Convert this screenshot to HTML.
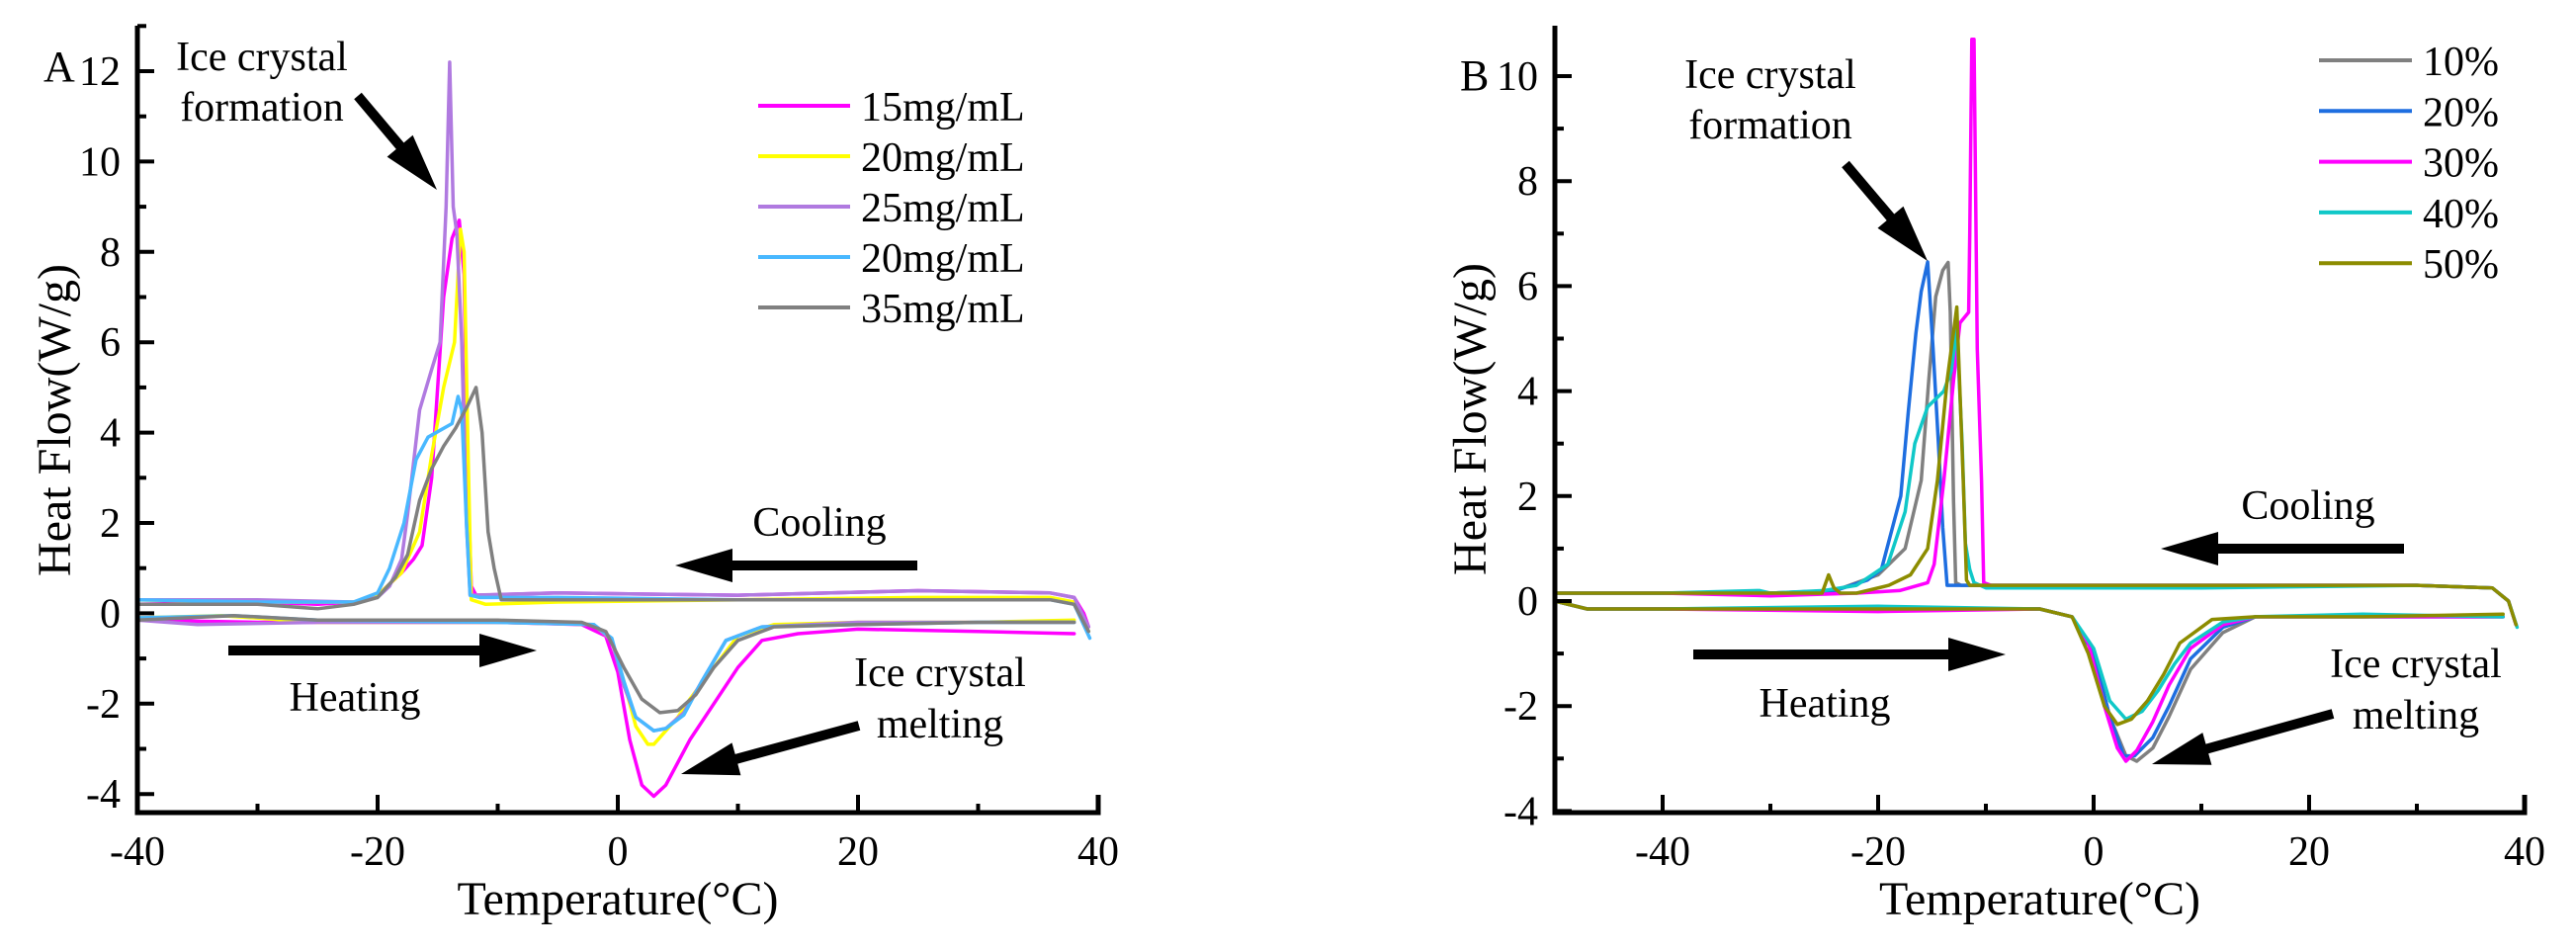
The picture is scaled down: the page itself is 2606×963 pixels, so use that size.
<!DOCTYPE html>
<html><head><meta charset="utf-8"><style>
html,body{margin:0;padding:0;background:#fff;}
svg{display:block;}
svg text{font-family:"Liberation Serif","Times New Roman",serif;}
</style></head>
<body>
<svg id="fig" width="2606" height="963" viewBox="0 0 2606 963" xmlns="http://www.w3.org/2000/svg" font-family="Liberation Serif, serif">
<g id="panelA"></g>
<g id="panelB"></g>
</svg>
<script>
// ---------- Panel A data ----------
const aXTicks = [-40, -20, 0, 20, 40];
const aYTicks = [-4, -2, 0, 2, 4, 6, 8, 10, 12];
const aLegendLabels = ["15mg/mL", "20mg/mL", "25mg/mL", "20mg/mL", "35mg/mL"];
const aColors = ["#ff00ff", "#ffff00", "#b07ae0", "#48b8ff", "#808080"];

const a15CoolT = [-40,-30,-25,-22,-20,-18,-17,-16.3,-15.5,-14.5,-13.8,-13.2,-12.8,-12.5,-12.2,-11.8,-5,10,25,36,38,38.8,39.2];
const a15CoolV = [0.2,0.25,0.2,0.25,0.4,0.9,1.2,1.5,3,7,8.3,8.7,7.5,3,0.6,0.4,0.45,0.4,0.5,0.45,0.35,0.0,-0.3];
const a15HeatT = [-40,-30,-20,-10,-3,-1,0,1,2,3,4,5,6,8,10,12,15,20,30,38];
const a15HeatV = [-0.15,-0.2,-0.2,-0.2,-0.25,-0.5,-1.3,-2.8,-3.8,-4.05,-3.8,-3.3,-2.8,-2.0,-1.2,-0.6,-0.45,-0.35,-0.4,-0.45];

const a20CoolT = [-40,-30,-22,-20,-18,-16.5,-15.5,-14.5,-13.6,-13.1,-12.8,-12.5,-12.2,-11,-5,10,25,36,38,39.2];
const a20CoolV = [0.3,0.25,0.25,0.4,0.9,1.8,3.5,5,6,8.5,8,4,0.3,0.2,0.25,0.3,0.35,0.35,0.25,-0.4];
const a20HeatT = [-40,-33,-25,-10,-2,-0.5,0.5,1.5,2.5,3,4,5,6,8,10,13,20,30,38];
const a20HeatV = [-0.1,-0.05,-0.2,-0.2,-0.25,-0.6,-1.5,-2.5,-2.9,-2.9,-2.6,-2.3,-1.9,-1.2,-0.5,-0.25,-0.2,-0.2,-0.15];

const a25CoolT = [-40,-30,-22,-20,-19,-18,-17.5,-16.5,-15.5,-14.8,-14.3,-14,-13.7,-13.4,-13,-12.6,-12.3,-5,10,25,36,38,39.2];
const a25CoolV = [0.3,0.3,0.25,0.35,0.6,1.2,2.2,4.5,5.4,6,9,12.2,9,8.4,6,2,0.4,0.45,0.4,0.5,0.45,0.35,-0.3];
const a25HeatT = [-40,-35,-25,-10,-2,-0.5,0.5,1.5,3,4,5.5,7,9,12,20,30,38];
const a25HeatV = [-0.15,-0.25,-0.2,-0.2,-0.25,-0.6,-1.6,-2.3,-2.6,-2.55,-2.2,-1.5,-0.6,-0.3,-0.2,-0.2,-0.2];

const a20bCoolT = [-40,-30,-22,-20,-19,-17.8,-16.8,-15.8,-14.8,-13.8,-13.3,-13,-12.6,-12.3,-11.5,-5,10,25,36,38,39.3];
const a20bCoolV = [0.3,0.25,0.25,0.45,1,2,3.4,3.9,4.05,4.2,4.8,4.5,2,0.4,0.35,0.35,0.3,0.3,0.3,0.2,-0.55];
const a20bHeatT = [-40,-32,-25,-10,-2,-0.5,0.5,1.5,3,4,5.5,7,9,12,20,30,38];
const a20bHeatV = [-0.1,-0.05,-0.15,-0.2,-0.25,-0.55,-1.5,-2.3,-2.6,-2.55,-2.25,-1.5,-0.6,-0.3,-0.25,-0.2,-0.2];

const a35CoolT = [-40,-30,-25,-22,-20,-18.5,-17.5,-16.5,-15.5,-14.5,-13.5,-12.5,-11.8,-11.3,-10.8,-10.3,-9.7,-5,10,25,36,38,39.2];
const a35CoolV = [0.2,0.2,0.1,0.2,0.35,0.8,1.3,2.5,3.2,3.7,4.1,4.6,5,4,1.8,1,0.3,0.3,0.3,0.3,0.3,0.2,-0.4];
const a35HeatT = [-40,-32,-25,-10,-3,-1,0.5,2,3.5,5,6.5,8,10,13,20,30,38];
const a35HeatV = [-0.15,-0.05,-0.15,-0.15,-0.2,-0.4,-1.2,-1.9,-2.2,-2.15,-1.8,-1.2,-0.6,-0.3,-0.25,-0.2,-0.2];

// ---------- Panel B data ----------
const bXTicks = [-40, -20, 0, 20, 40];
const bYTicks = [-4, -2, 0, 2, 4, 6, 8, 10];
const bLegendLabels = ["10%", "20%", "30%", "40%", "50%"];
const bColors = ["#808080", "#1e6ee0", "#ff00ff", "#10c8c8", "#8c8c00"];

const b10CoolT = [-50,-40,-30,-24,-20,-17.5,-16,-15.3,-14.65,-14,-13.5,-13.3,-13,-12.8,-12.3,-5,10,30,37,38.5,39.2];
const b10CoolV = [0.15,0.15,0.15,0.2,0.5,1.0,2.3,4.2,5.8,6.3,6.45,5.5,1.9,0.35,0.3,0.3,0.3,0.3,0.25,0,-0.45];
const b10HeatT = [-50,-47,-40,-20,-5,-2,0,1.5,3,4,5.5,7,9,12,15,25,38];
const b10HeatV = [0,-0.15,-0.15,-0.15,-0.15,-0.3,-1,-2.2,-2.95,-3.05,-2.8,-2.2,-1.3,-0.6,-0.3,-0.3,-0.3];

const b20CoolT = [-50,-40,-30,-24,-21,-19.7,-17.9,-17.2,-16.5,-16,-15.4,-14.9,-14.65,-14.4,-14,-13.6,-10,10,30,37,38.5,39.2];
const b20CoolV = [0.15,0.15,0.15,0.2,0.4,0.6,2.0,3.6,5.1,5.9,6.46,4.8,3.9,3.0,1.4,0.3,0.3,0.3,0.3,0.25,0,-0.45];
const b20HeatT = [-50,-47,-40,-20,-5,-2,0,1.5,2.8,3.8,5.5,7,9,12,15,25,38];
const b20HeatV = [0,-0.15,-0.15,-0.15,-0.15,-0.3,-1,-2.2,-2.95,-2.95,-2.6,-2.0,-1.1,-0.5,-0.3,-0.3,-0.3];

const b30CoolT = [-50,-40,-30,-22,-18,-15.4,-14.8,-13.9,-13,-12.4,-11.6,-11.5,-11.3,-11.1,-10.8,-10.4,-10.2,-9.5,10,30,37,38.5,39.2];
const b30CoolV = [0.15,0.15,0.1,0.15,0.2,0.35,0.7,2.3,4.2,5.3,5.5,7.0,10.7,10.7,4.8,2.3,0.35,0.3,0.3,0.3,0.25,0,-0.45];
const b30HeatT = [-50,-47,-40,-20,-5,-2,-0.5,1,2.2,3,4,5.5,7,9,12,15,25,38];
const b30HeatV = [0,-0.15,-0.15,-0.2,-0.15,-0.3,-0.8,-2.0,-2.8,-3.05,-2.85,-2.3,-1.6,-0.9,-0.45,-0.3,-0.3,-0.3];

const b40CoolT = [-50,-40,-31,-30,-25,-22,-19.1,-17.5,-16.6,-15.4,-13.9,-13.2,-12.7,-12.2,-11.9,-11.5,-11.1,-10,10,30,37,38.5,39.3];
const b40CoolV = [0.15,0.15,0.2,0.15,0.2,0.3,0.7,1.7,3.0,3.7,4.0,4.4,5.2,3.0,1.1,0.6,0.35,0.25,0.25,0.3,0.25,0,-0.5];
const b40HeatT = [-50,-47,-40,-20,-5,-2,0,1.5,3,4.5,6,7.5,9,12,15,25,38];
const b40HeatV = [0,-0.15,-0.15,-0.1,-0.15,-0.3,-0.9,-1.9,-2.25,-2.1,-1.7,-1.2,-0.8,-0.4,-0.3,-0.25,-0.3];

const b50CoolT = [-50,-40,-30,-25.2,-24.6,-24.1,-23.5,-22,-19,-17,-15.4,-14.5,-13.6,-12.7,-12.1,-11.8,-11.5,-5,10,30,37,38.5,39.2];
const b50CoolV = [0.15,0.15,0.15,0.15,0.5,0.25,0.15,0.15,0.3,0.5,1.0,2.3,4.2,5.6,2.3,0.4,0.3,0.3,0.3,0.3,0.25,0,-0.45];
const b50HeatT = [-50,-47,-40,-20,-5,-2,-0.5,1,2.2,3.5,5,6.5,8,11,15,25,38];
const b50HeatV = [0,-0.15,-0.15,-0.15,-0.15,-0.3,-1,-2.0,-2.35,-2.25,-1.9,-1.4,-0.8,-0.35,-0.3,-0.3,-0.25];

const NS = "http://www.w3.org/2000/svg";
const FONT = '"Liberation Serif", "Times New Roman", serif';
function mk(parent, tag, attrs, text) {
  const e = document.createElementNS(NS, tag);
  for (const k in attrs) e.setAttribute(k, attrs[k]);
  if (tag === 'text') e.setAttribute('font-family', FONT);
  if (text !== undefined) e.textContent = text;
  parent.appendChild(e);
  return e;
}

function drawPanel(g, cfg) {
  const sx = t => cfg.x0 + (t - cfg.xmin) / (cfg.xmax - cfg.xmin) * (cfg.x1 - cfg.x0);
  const sy = v => cfg.yZero - v * cfg.yPer;
  cfg.series.forEach((s, i) => {
    [[s.ct, s.cv, 'cooling'], [s.ht, s.hv, 'heating']].forEach(([T, V, kind]) => {
      let d = '';
      T.forEach((t, j) => { d += (j ? 'L' : 'M') + sx(t).toFixed(1) + ',' + sy(V[j]).toFixed(1); });
      const p = mk(g, 'path', {d: d, fill: 'none', stroke: cfg.colors[i], 'stroke-width': 3.5, 'stroke-linejoin': 'round', 'stroke-linecap': 'round'});
      
      
    });
  });
  const ax = mk(g, 'path', {d: `M${cfg.x0},${cfg.yTop}V${cfg.yBot}H${cfg.x1}V${cfg.yBot - 18}`, fill: 'none', stroke: '#000', 'stroke-width': 5});
  
  
  for (let t = cfg.xmin; t <= cfg.xmax; t += 10) {
    const major = cfg.xTicks.includes(t);
    const tk = mk(g, 'line', {x1: sx(t), x2: sx(t), y1: cfg.yBot, y2: cfg.yBot - (major ? 18 : 9), stroke: '#000', 'stroke-width': 4});
    
    
  }
  cfg.xTicks.forEach(t => {
    const tl = mk(g, 'text', {x: sx(t), y: cfg.yBot + 53, 'font-size': 42, 'text-anchor': 'middle'}, String(t));
    
    
  });
  for (let v = cfg.yTicks[0]; v <= cfg.yTicks[cfg.yTicks.length - 1] + 1; v += 1) {
    if (sy(v) < cfg.yTop) break;
    const major = cfg.yTicks.includes(v);
    const tk = mk(g, 'line', {x1: cfg.x0, x2: cfg.x0 + (major ? 17 : 9), y1: sy(v), y2: sy(v), stroke: '#000', 'stroke-width': 4});
    
    
  }
  cfg.yTicks.forEach(v => {
    const tl = mk(g, 'text', {x: cfg.x0 - 17, y: sy(v) + 14, 'font-size': 42, 'text-anchor': 'end'}, String(v));
    
    
  });
  const xt = mk(g, 'text', {x: (cfg.x0 + cfg.x1) / 2, y: 925, 'font-size': 48, 'text-anchor': 'middle'}, 'Temperature(°C)');
  
  
  const yt = mk(g, 'text', {x: 0, y: 0, 'font-size': 48, 'text-anchor': 'middle', transform: `translate(${cfg.yTitleX},${cfg.yTitleY}) rotate(-90)`}, 'Heat Flow(W/g)');
  
  
  const pl = mk(g, 'text', {x: cfg.labelX, y: cfg.labelY, 'font-size': 44}, cfg.label);
  
  
  cfg.legend.forEach((lab, i) => {
    const y = cfg.legY + i * cfg.legDy;
    const le = mk(g, 'g', {});
    
    
    mk(le, 'line', {x1: cfg.legX0, x2: cfg.legX1, y1: y, y2: y, stroke: cfg.colors[i], 'stroke-width': 4});
    mk(le, 'text', {x: cfg.legX1 + 11, y: y + 15, 'font-size': 42}, lab);
  });
  cfg.texts.forEach(tx => {
    const t = mk(g, 'text', {x: tx[0], y: tx[1], 'font-size': 42, 'text-anchor': 'middle'}, tx[2]);
    
    
  });
  cfg.arrows.forEach(a => {
    const [x1, y1, x2, y2, nm] = a;
    const dx = x2 - x1, dy = y2 - y1, L = Math.hypot(dx, dy), ux = dx / L, uy = dy / L;
    const hl = 58, hw = 17, sw = 5;
    const bx = x2 - ux * hl, by = y2 - uy * hl, nx = -uy, ny = ux;
    const pts = [[x1 + nx * sw, y1 + ny * sw], [bx + nx * sw, by + ny * sw], [bx + nx * hw, by + ny * hw], [x2, y2], [bx - nx * hw, by - ny * hw], [bx - nx * sw, by - ny * sw], [x1 - nx * sw, y1 - ny * sw]];
    const p = mk(g, 'polygon', {points: pts.map(q => q[0].toFixed(1) + ',' + q[1].toFixed(1)).join(' '), fill: '#000'});
    
    
  });
}

drawPanel(document.getElementById('panelA'), {
  x0: 139, x1: 1111, xmin: -40, xmax: 40, yZero: 620.4, yPer: 45.7, yTop: 26, yBot: 822,
  xTicks: aXTicks, yTicks: aYTicks, colors: aColors, legend: aLegendLabels,
  series: [
    {ct: a15CoolT, cv: a15CoolV, ht: a15HeatT, hv: a15HeatV},
    {ct: a20CoolT, cv: a20CoolV, ht: a20HeatT, hv: a20HeatV},
    {ct: a25CoolT, cv: a25CoolV, ht: a25HeatT, hv: a25HeatV},
    {ct: a20bCoolT, cv: a20bCoolV, ht: a20bHeatT, hv: a20bHeatV},
    {ct: a35CoolT, cv: a35CoolV, ht: a35HeatT, hv: a35HeatV}
  ],
  yTitleX: 71, yTitleY: 425, label: 'A', labelX: 44, labelY: 82,
  legX0: 767, legX1: 860, legY: 107, legDy: 51,
  texts: [[265, 71, 'Ice crystal', 'annotation-ice-crystal'], [265, 122, 'formation', 'annotation-formation'],
          [829, 542, 'Cooling', 'annotation-cooling'], [359, 719, 'Heating', 'annotation-heating'],
          [951, 694, 'Ice crystal', 'annotation-ice-crystal-melt'], [951, 746, 'melting', 'annotation-melting']],
  arrows: [[362, 97, 442, 192, 'formation-arrow'], [928, 572, 683, 572, 'cooling-arrow'],
           [231, 658, 543, 658, 'heating-arrow'], [869, 734, 689, 783, 'melting-arrow']]
});

drawPanel(document.getElementById('panelB'), {
  x0: 1573, x1: 2554, xmin: -50, xmax: 40, yZero: 608, yPer: 53.1, yTop: 26, yBot: 822,
  xTicks: bXTicks, yTicks: bYTicks, colors: bColors, legend: bLegendLabels,
  series: [
    {ct: b10CoolT, cv: b10CoolV, ht: b10HeatT, hv: b10HeatV},
    {ct: b20CoolT, cv: b20CoolV, ht: b20HeatT, hv: b20HeatV},
    {ct: b30CoolT, cv: b30CoolV, ht: b30HeatT, hv: b30HeatV},
    {ct: b40CoolT, cv: b40CoolV, ht: b40HeatT, hv: b40HeatV},
    {ct: b50CoolT, cv: b50CoolV, ht: b50HeatT, hv: b50HeatV}
  ],
  yTitleX: 1503, yTitleY: 424, label: 'B', labelX: 1477, labelY: 91,
  legX0: 2346, legX1: 2440, legY: 61, legDy: 51.3,
  texts: [[1791, 89, 'Ice crystal', 'annotation-ice-crystal'], [1791, 140, 'formation', 'annotation-formation'],
          [2335, 525, 'Cooling', 'annotation-cooling'], [1846, 725, 'Heating', 'annotation-heating'],
          [2444, 685, 'Ice crystal', 'annotation-ice-crystal-melt'], [2444, 737, 'melting', 'annotation-melting']],
  arrows: [[1867, 166, 1950, 264, 'formation-arrow'], [2432, 555, 2186, 555, 'cooling-arrow'],
           [1713, 662, 2029, 662, 'heating-arrow'], [2360, 722, 2177, 773, 'melting-arrow']]
});
</script>
</body></html>
